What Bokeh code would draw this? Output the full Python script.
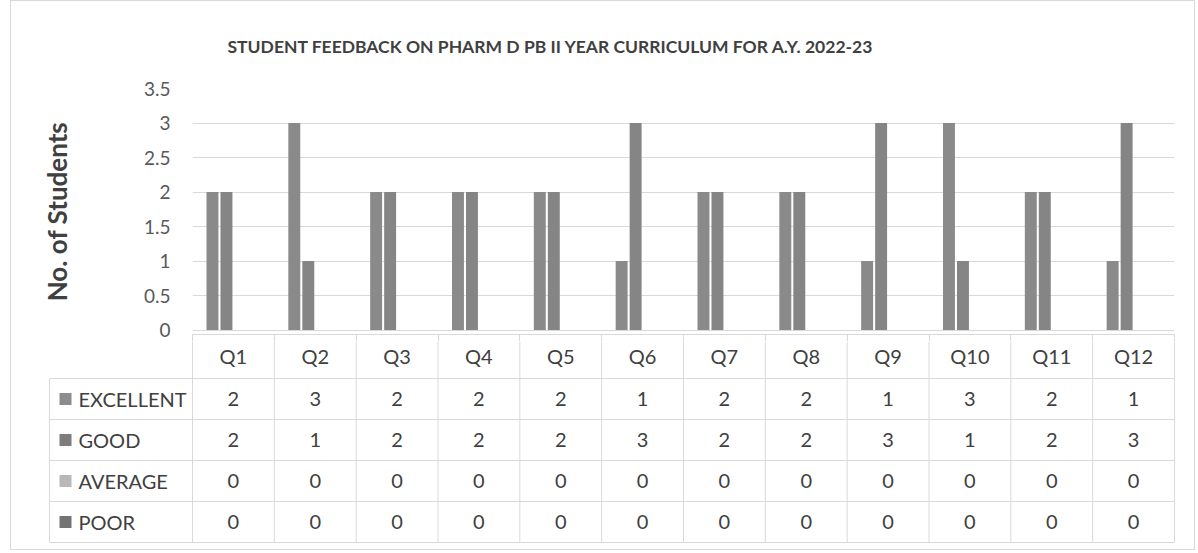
from bokeh.plotting import figure
from bokeh.layouts import column
from bokeh.models import (Range1d, ColumnDataSource, Title,
                          FixedTicker, NumeralTickFormatter)
from bokeh.transform import dodge
from bokeh.core.properties import value
from bokeh.embed import file_html
from bokeh.resources import INLINE

# ---------------- data ----------------
questions = ["Q1", "Q2", "Q3", "Q4", "Q5", "Q6", "Q7", "Q8", "Q9", "Q10", "Q11", "Q12"]
series = ["EXCELLENT", "GOOD", "AVERAGE", "POOR"]
excellent = [2, 3, 2, 2, 2, 1, 2, 2, 1, 3, 2, 1]
good = [2, 1, 2, 2, 2, 3, 2, 2, 3, 1, 2, 3]
average = [0, 0, 0, 0, 0, 0, 0, 0, 0, 0, 0, 0]
poor = [0, 0, 0, 0, 0, 0, 0, 0, 0, 0, 0, 0]
y_ticks = [0, 0.5, 1, 1.5, 2, 2.5, 3, 3.5]
title_text = "STUDENT FEEDBACK ON PHARM D PB II YEAR CURRICULUM FOR A.Y. 2022-23"
y_label = "No. of Students"

# ---------------- style ----------------
bar_colors = ["#8a8a8a", "#858585", "#b4b4b4", "#7a7a7a"]
key_colors = ["#8c8c8c", "#7d7d7d", "#b8b8b8", "#747474"]
offsets = [-0.256, -0.085, 0.085, 0.256]
bar_width = 0.146
FONT = "Lato"
TEXT = "#404040"
LINE = "#d9d9d9"

W = 1183
BL, BR, BT = 181, 20, 87
FRAME_H = 247
H1 = 340
H2 = 208
BB = H1 - BT - FRAME_H
frame_w = W - BL - BR
n = len(questions)
cw = frame_w / n                 # px per category
y_pad = 4.5 / 69.3               # frame extends a little below zero (table top line)

values = {"EXCELLENT": excellent, "GOOD": good, "AVERAGE": average, "POOR": poor}
src = ColumnDataSource(dict(q=questions, xc=[i + 0.5 for i in range(n)], **values))

# ---------------- chart ----------------
p = figure(x_range=Range1d(0, n), y_range=Range1d(-y_pad, 3.5), width=W, height=H1,
           output_backend="svg", toolbar_location=None,
           min_border_left=BL, min_border_right=BR, min_border_top=BT,
           min_border_bottom=BB, frame_align=False)
p.outline_line_color = None
p.xgrid.visible = False
p.ygrid.ticker = FixedTicker(ticks=y_ticks)
p.ygrid.grid_line_color = LINE
p.ygrid.grid_line_width = 1

ax = p.yaxis[0]
ax.ticker = FixedTicker(ticks=y_ticks)
ax.formatter = NumeralTickFormatter(format="0.[0]")
ax.axis_line_color = None
ax.major_tick_line_color = None
ax.minor_tick_line_color = None
ax.major_label_standoff = 16
ax.major_label_text_font = FONT
ax.major_label_text_font_size = "19px"
ax.major_label_text_color = "#595959"
ax.axis_label = y_label
ax.axis_label_text_font = FONT
ax.axis_label_text_font_size = "26px"
ax.axis_label_text_font_style = "bold"
ax.axis_label_text_color = TEXT
ax.axis_label_standoff = 68

# bottom axis = top border of the data table; column dividers as (minor) ticks
bx = p.xaxis[0]
bx.ticker = FixedTicker(ticks=[], minor_ticks=list(range(n + 1)))
bx.axis_line_color = LINE
bx.major_tick_line_color = None
bx.minor_tick_line_color = LINE
bx.minor_tick_in = 0
bx.minor_tick_out = BB + 1

for s, off, c in zip(series, offsets, bar_colors):
    p.vbar(x=dodge("xc", off), top=s, width=bar_width,
           source=src, fill_color=c, line_color=None)

p.add_layout(Title(text=title_text, align="left", offset=35, text_font=FONT,
                   text_font_size="17.5px", text_font_style="bold",
                   text_color=TEXT, standoff=63), "above")

# ---------------- data table ----------------
row_h = 41.0
bottom_gap = 7.0
label_left = -(BL - 38) / cw
top_val = (H2 - bottom_gap) / row_h
t = figure(width=W, height=H2,
           x_range=Range1d(-BL / cw, n + BR / cw),
           y_range=Range1d(-bottom_gap / row_h, top_val),
           output_backend="svg", toolbar_location=None,
           x_axis_location=None, y_axis_location=None, min_border=0,
           frame_align=False)
t.outline_line_color = None
t.xgrid.visible = False
t.ygrid.visible = False

nrows = len(series)
# horizontal lines
hy = list(range(nrows + 1))
t.segment(x0=[label_left] * (nrows + 1), y0=hy, x1=[n] * (nrows + 1), y1=hy,
          line_color=LINE, line_width=1)
# vertical lines
vx = list(range(n + 1)) + [label_left]
vy1 = [top_val] * (n + 1) + [nrows]
t.segment(x0=vx, y0=[0] * (n + 2), x1=vx, y1=vy1, line_color=LINE, line_width=1)

# header
t.text(x=[i + 0.5 for i in range(n)], y=[nrows + 0.55] * n, text=questions,
       text_font=value(FONT), text_font_size="20px", text_color=TEXT,
       text_align="center", text_baseline="middle")
# values
vxs, vys, vts = [], [], []
for r, s in enumerate(series):
    for i, v in enumerate(values[s]):
        vxs.append(i + 0.5)
        vys.append(nrows - r - 0.5)
        vts.append(str(v))
t.text(x=vxs, y=vys, text=vts, text_font=value(FONT), text_font_size="20px",
       text_color=TEXT, text_align="center", text_baseline="middle")
# row labels with keys
ry = [nrows - r - 0.5 for r in range(nrows)]
t.scatter(x=[label_left + 16 / cw] * nrows, y=ry, marker="square", size=12,
          fill_color=key_colors, line_color=None)
t.text(x=[label_left + 29 / cw] * nrows, y=ry, text=series,
       text_font=value(FONT), text_font_size="20px", text_color=TEXT,
       text_align="left", text_baseline="middle")

layout = column(p, t, spacing=0,
                styles={"border": "1px solid #d9d9d9", "margin-left": "10px",
                        "margin-top": "0px"})

open("out.html", "w").write(file_html(layout, INLINE))
